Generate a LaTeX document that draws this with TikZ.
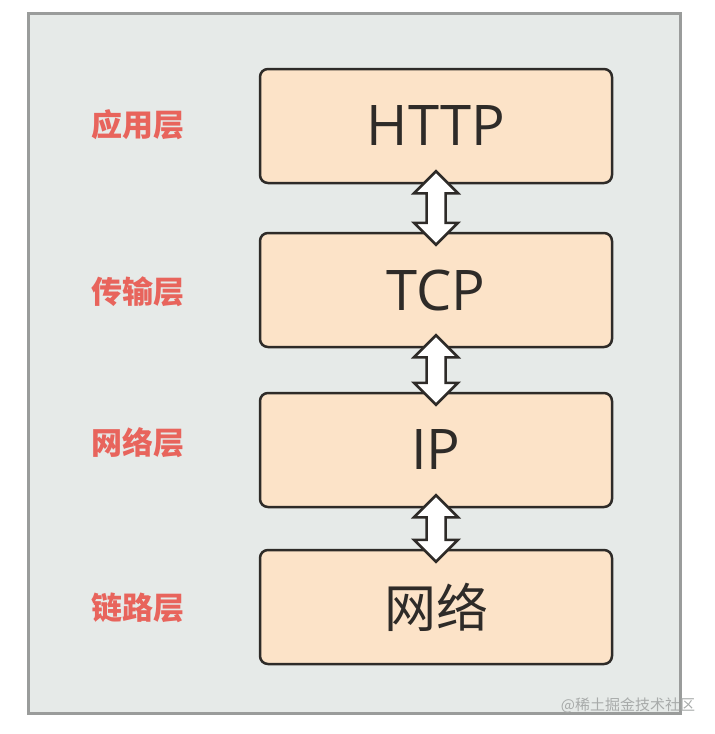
\documentclass[tikz,border=0pt]{standalone}
\usepackage{fontspec}
\newfontfamily\cjk{Noto Sans CJK SC}
\newfontfamily\latinf{Open Sans}
\usetikzlibrary{calc}
\definecolor{panelfill}{HTML}{E6EAE8}
\definecolor{panelline}{HTML}{9A9C9B}
\definecolor{boxfill}{HTML}{FCE3C8}
\definecolor{boxline}{HTML}{2E2B28}
\definecolor{labelred}{HTML}{E8645C}
\definecolor{textdark}{HTML}{2E2B28}
\definecolor{wmgray}{HTML}{A8ABAA}
\tikzset{
  layerbox/.style={draw=boxline, fill=boxfill, line width=2.5pt, rounded corners=8pt,
    minimum width=352pt, minimum height=114pt, inner sep=0pt, text=textdark},
  layerlabel/.style={text=labelred, font=\cjk\bfseries\fontsize{31pt}{31pt}\selectfont, inner sep=0pt},
  blockarrow/.style={draw=boxline, fill=white, line width=2.5pt, line join=miter},
}
\newcommand{\dblarrow}[2]{%
  \coordinate (t#1) at ($(#1.south)+(0,-13)$);
  \coordinate (b#1) at ($(#2.north)+(0,13)$);
  \draw[blockarrow] (t#1) -- ++(22,22) -- ++(-12.5,0) -- ($(b#1)+(9.5,-22)$) -- ++(12.5,0)
    -- (b#1) -- ++(-22,-22) -- ++(12.5,0) -- ($(t#1)+(-9.5,22)$) -- ++(-12.5,0) -- cycle;
}
\begin{document}
\begin{tikzpicture}[x=1pt,y=-1pt]
\useasboundingbox (0,0) rectangle (715,734);
\fill[white] (0,0) rectangle (715,734);
\draw[panelline, fill=panelfill, line width=3pt] (28,13) rectangle (680,713);
\node[layerbox, font=\latinf\fontsize{56pt}{56pt}\selectfont] (http) at (436,126) {HTTP};
\node[layerbox, font=\latinf\fontsize{56pt}{56pt}\selectfont] (tcp) at (436,290) {TCP};
\node[layerbox, font=\latinf\fontsize{56pt}{56pt}\selectfont] (ip) at (436,450) {IP};
\node[layerbox, font=\cjk\fontsize{52pt}{52pt}\selectfont] (net) at (436,607) {网络};
\node[layerlabel] (l1) at (138,125) {应用层};
\node[layerlabel] (l2) at (138,292) {传输层};
\node[layerlabel] (l3) at (138,443) {网络层};
\node[layerlabel] (l4) at (138,608) {链路层};
\dblarrow{http}{tcp}
\dblarrow{tcp}{ip}
\dblarrow{ip}{net}
\node[text=wmgray, font=\cjk\fontsize{15pt}{15pt}\selectfont, inner sep=0pt] (wm) at (628,705) {@稀土掘金技术社区};
\end{tikzpicture}
\end{document}
